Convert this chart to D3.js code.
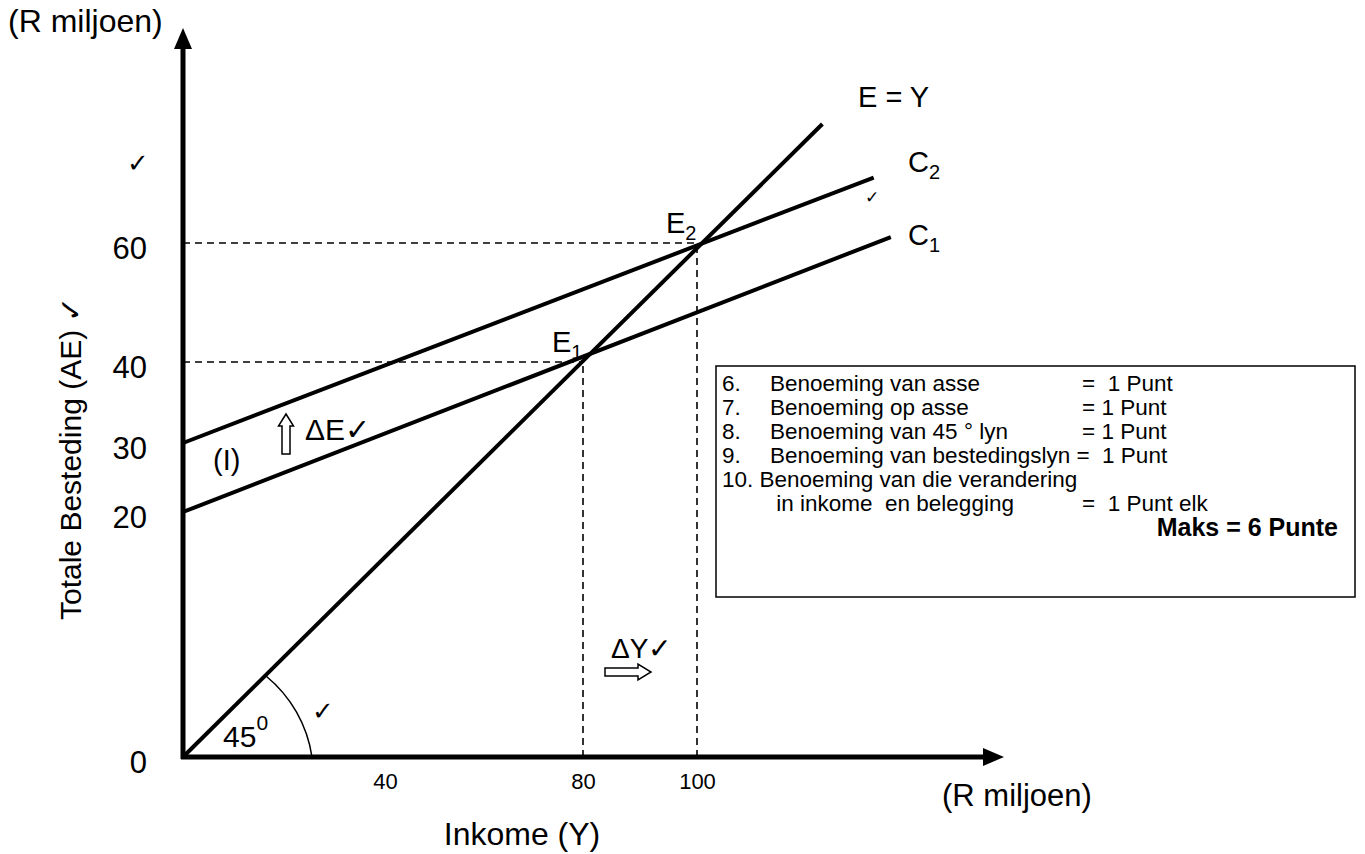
<!DOCTYPE html>
<html>
<head>
<meta charset="utf-8">
<script src="https://cdn.jsdelivr.net/npm/d3@7/dist/d3.min.js"></script>
<style>
	body { margin: 0; background: #fff; }
	svg { display: block; }
	text { font-family: Arial, "Liberation Sans", sans-serif; fill: #000; }
</style>
</head>
<body>
<svg id="chart" width="1365" height="854"></svg>
<script>
// values (schematic, axes are not to scale)
var xTicks = [40, 80, 100];
var yTicks = [0, 20, 30, 40, 60];
var lineEY = [[0, 0], [122, 80]];
var lineC1 = [[0, 20], [134, 61]];
var lineC2 = [[0, 30], [131, 71]];
var points = [
	{ name: "E", sub: "1", x: 80, y: 40 },
	{ name: "E", sub: "2", x: 100, y: 60 }
];
var legendRows = [
	["6.", "Benoeming van asse", "=  1 Punt"],
	["7.", "Benoeming op asse", "= 1 Punt"],
	["8.", "Benoeming van 45 ° lyn", "= 1 Punt"],
	["9.", "Benoeming van bestedingslyn =  1 Punt", ""],
	["10. Benoeming van die verandering", "", ""],
	["", " in inkome  en belegging", "=  1 Punt elk"]
];
var legendTotal = "Maks = 6 Punte";

var svg = d3.select("#chart");

// piecewise scales, the sketch spaces its ticks unevenly
var x = d3.scaleLinear()
	.domain([0, 40, 80, 100])
	.range([183, 385, 583, 697]);
var y = d3.scaleLinear()
	.domain([0, 20, 30, 40, 60])
	.range([757, 512, 443, 362, 243]);

var x0 = x(0), y0 = y(0);

// dashed guides from the equilibrium points to the axes
points.forEach(function(p) {
	svg.append("line")
		.attr("x1", x0).attr("y1", y(p.y))
		.attr("x2", x(p.x)).attr("y2", y(p.y))
		.attr("stroke", "#000").attr("stroke-width", 1.6)
		.attr("stroke-dasharray", "7,5");
	svg.append("line")
		.attr("x1", x(p.x)).attr("y1", y0)
		.attr("x2", x(p.x)).attr("y2", y(p.y))
		.attr("stroke", "#000").attr("stroke-width", 1.6)
		.attr("stroke-dasharray", "7,5");
});

// main lines
var line = d3.line()
	.x(function(d) { return x(d[0]); })
	.y(function(d) { return y(d[1]); });

[lineEY, lineC1, lineC2].forEach(function(l) {
	svg.append("path")
		.attr("d", line(l))
		.attr("fill", "none")
		.attr("stroke", "#000")
		.attr("stroke-width", 4);
});

// axes
svg.append("line")
	.attr("x1", x0).attr("y1", y0 + 2)
	.attr("x2", x0).attr("y2", 45)
	.attr("stroke", "#000").attr("stroke-width", 5);
svg.append("path")
	.attr("d", "M" + x0 + ",28 L" + (x0 - 9) + ",49 L" + (x0 + 9) + ",49 Z")
	.attr("fill", "#000");
svg.append("line")
	.attr("x1", x0 - 2).attr("y1", y0)
	.attr("x2", 988).attr("y2", y0)
	.attr("stroke", "#000").attr("stroke-width", 5);
svg.append("path")
	.attr("d", "M1004," + y0 + " L983," + (y0 - 9) + " L983," + (y0 + 9) + " Z")
	.attr("fill", "#000");

// tick labels through d3 axes, no tick marks or domain
var yAxis = svg.append("g")
	.attr("transform", "translate(" + x0 + ",0)")
	.call(d3.axisLeft(y).tickValues(yTicks).tickSize(0).tickPadding(36).tickFormat(d3.format("d")));
yAxis.select(".domain").remove();
yAxis.selectAll("text").attr("font-size", 31).attr("font-family", null).attr("dy", "0.5em");

var xAxis = svg.append("g")
	.attr("transform", "translate(0," + y0 + ")")
	.call(d3.axisBottom(x).tickValues(xTicks).tickSize(0).tickPadding(16).tickFormat(d3.format("d")));
xAxis.select(".domain").remove();
xAxis.selectAll("text").attr("font-size", 22).attr("font-family", null);

// axis titles
svg.append("text").attr("x", 8).attr("y", 32).attr("font-size", 32).text("(R miljoen)");
svg.append("text").attr("x", 942).attr("y", 806).attr("font-size", 31).text("(R miljoen)");
svg.append("text").attr("x", 522).attr("y", 845).attr("text-anchor", "middle").attr("font-size", 32).text("Inkome (Y)");
svg.append("text")
	.attr("transform", "translate(81,620) rotate(-90)")
	.attr("font-size", 30)
	.text("Totale Besteding (AE) ✓");

// line names
svg.append("text").attr("x", 858).attr("y", 107).attr("font-size", 29).text("E = Y");
function subLabel(tx, ty, main, sub) {
	var t = svg.append("text").attr("x", tx).attr("y", ty).attr("font-size", 29);
	t.append("tspan").text(main);
	t.append("tspan").attr("font-size", 20).attr("dy", 7).text(sub);
}
subLabel(908, 172, "C", "2");
subLabel(908, 245, "C", "1");
points.forEach(function(p) {
	subLabel(x(p.x) - 31, y(p.y) - 10, p.name, p.sub);
});

// ticks ("✓") the marker put on the sketch
[[127, 172, 26], [865, 203, 17], [312, 720, 26]].forEach(function(c) {
	svg.append("text").attr("x", c[0]).attr("y", c[1]).attr("font-size", c[2]).text("✓");
});

// shift of the spending line
svg.append("text").attr("x", 213).attr("y", 470).attr("font-size", 29).text("(I)");
var ax = 286, ay = 414;
svg.append("path")
	.attr("d", "M" + ax + "," + ay + " l7.5,12 l-3.5,0 l0,28 l-8,0 l0,-28 l-3.5,0 Z")
	.attr("fill", "#fff").attr("stroke", "#000").attr("stroke-width", 1.5);
svg.append("text").attr("x", 305).attr("y", 440).attr("font-size", 30).text("ΔE✓");

// change in income
var bx = 605, by = 672;
svg.append("path")
	.attr("d", "M" + bx + "," + (by - 4) + " l33,0 l0,-4 l13,8 l-13,8 l0,-4 l-33,0 Z")
	.attr("fill", "#fff").attr("stroke", "#000").attr("stroke-width", 1.5);
svg.append("text").attr("x", 611).attr("y", 658).attr("font-size", 28).text("ΔY✓");

// 45 degree arc
svg.append("path")
	.attr("d", "M" + (x0 + 129) + "," + y0 + " A129,129 0 0,0 " + (x0 + 83) + "," + (y0 - 81))
	.attr("fill", "none").attr("stroke", "#000").attr("stroke-width", 1.5);
var deg = svg.append("text").attr("x", 223).attr("y", 747).attr("font-size", 30);
deg.append("tspan").text("45");
deg.append("tspan").attr("font-size", 21).attr("dy", -17).text("0");

// marking box
svg.append("rect")
	.attr("x", 716).attr("y", 366).attr("width", 639).attr("height", 231)
	.attr("fill", "#fff").attr("stroke", "#000").attr("stroke-width", 1.5);
var rows = svg.append("g").attr("font-size", 22.5);
legendRows.forEach(function(r, i) {
	var ry = 391 + i * 24;
	rows.append("text").attr("x", 722).attr("y", ry).attr("xml:space", "preserve").text(r[0]);
	rows.append("text").attr("x", 770).attr("y", ry).attr("xml:space", "preserve").text(r[1]);
	rows.append("text").attr("x", 1082).attr("y", ry).attr("xml:space", "preserve").text(r[2]);
});
svg.append("text")
	.attr("x", 1338).attr("y", 536)
	.attr("text-anchor", "end")
	.attr("font-size", 25).attr("font-weight", "bold")
	.text(legendTotal);
</script>
</body>
</html>
